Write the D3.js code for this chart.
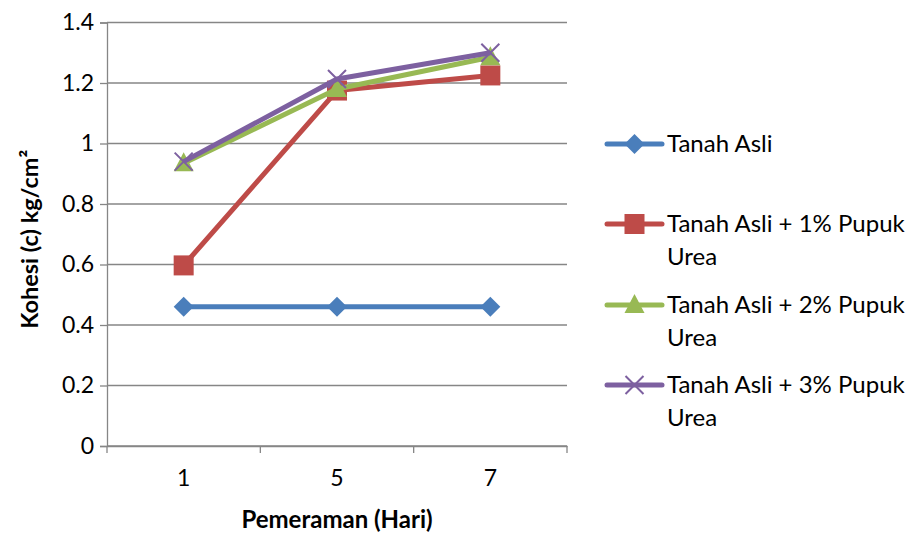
<!DOCTYPE html>
<html>
<head>
<meta charset="utf-8">
<script src="https://cdn.jsdelivr.net/npm/d3@7"></script>
<style>
  body { margin: 0; background: #fff; }
  text { font-family: Lato, "Open Sans", sans-serif; fill: #000; }
</style>
</head>
<body>
<svg id="chart" width="917" height="533"></svg>
<script>
const categories = ['1', '5', '7'];
const seriesNames = [
  ['Tanah Asli'],
  ['Tanah Asli + 1% Pupuk', 'Urea'],
  ['Tanah Asli + 2% Pupuk', 'Urea'],
  ['Tanah Asli + 3% Pupuk', 'Urea']
];
const tanahAsli = [0.46, 0.46, 0.46];
const urea1 = [0.597, 1.175, 1.225];
const urea2 = [0.935, 1.18, 1.285];
const urea3 = [0.94, 1.213, 1.30];
const yTicks = [0, 0.2, 0.4, 0.6, 0.8, 1, 1.2, 1.4];

const colors = ['#4a7ebb', '#be4b48', '#98b954', '#7d60a0'];
const markers = ['diamond', 'square', 'triangle', 'cross'];
const allSeries = [tanahAsli, urea1, urea2, urea3];

const svg = d3.select('#chart');
const margin = { left: 107, right: 350, top: 22.5, bottom: 87 };
const width = 917 - margin.left - margin.right;
const height = 533 - margin.top - margin.bottom;

const x = d3.scaleBand().domain(categories).range([0, width]);
const y = d3.scaleLinear().domain([0, 1.4]).range([height, 0]);

const g = svg.append('g').attr('transform', `translate(${margin.left},${margin.top})`);

// gridlines
g.append('g')
  .selectAll('line')
  .data(yTicks)
  .join('line')
  .attr('x1', 0).attr('x2', width)
  .attr('y1', d => y(d)).attr('y2', d => y(d))
  .attr('stroke', '#868686').attr('stroke-width', 1.3);

// y axis
const yAxis = g.append('g')
  .call(d3.axisLeft(y).tickValues(yTicks).tickSize(7).tickPadding(6).tickFormat(d => String(d)));
yAxis.select('.domain').attr('stroke', '#868686').attr('stroke-width', 1.3);
yAxis.selectAll('.tick line').attr('stroke', '#868686').attr('stroke-width', 1.3);
yAxis.selectAll('.tick text').style('font-size', '23px').style('font-family', 'Lato, sans-serif');

// x axis
const xAxis = g.append('g').attr('transform', `translate(0,${height})`)
  .call(d3.axisBottom(x).tickSize(0).tickPadding(24));
xAxis.select('.domain').attr('stroke', '#868686').attr('stroke-width', 1.3);
xAxis.selectAll('.tick text').style('font-size', '23px').style('font-family', 'Lato, sans-serif');
xAxis.append('g')
  .selectAll('line')
  .data(d3.range(categories.length + 1))
  .join('line')
  .attr('x1', i => i * x.bandwidth()).attr('x2', i => i * x.bandwidth())
  .attr('y1', 0).attr('y2', 7)
  .attr('stroke', '#868686').attr('stroke-width', 1.3);

// axis titles
svg.append('text')
  .attr('x', margin.left + width / 2).attr('y', 528)
  .attr('text-anchor', 'middle')
  .style('font-size', '24px').style('font-weight', 'bold')
  .text('Pemeraman (Hari)');

svg.append('text')
  .attr('transform', `translate(38,${margin.top + height / 2 + 5}) rotate(-90)`)
  .attr('text-anchor', 'middle')
  .style('font-size', '23.5px').style('font-weight', 'bold')
  .text('Kohesi (c) kg/cm²');

const drawMarker = (sel, type, color) => {
  if (type === 'diamond') {
    sel.append('path').attr('d', 'M0,-10L10,0L0,10L-10,0Z').attr('fill', color);
  } else if (type === 'square') {
    sel.append('rect').attr('x', -10).attr('y', -10).attr('width', 20).attr('height', 20).attr('fill', color);
  } else if (type === 'triangle') {
    sel.append('path').attr('d', 'M0,-11L10,8L-10,8Z').attr('fill', color);
  } else {
    sel.append('path').attr('d', 'M-9,-9L9,9M-9,9L9,-9').attr('stroke', color).attr('stroke-width', 2).attr('fill', 'none');
  }
};

const line = d3.line()
  .x((d, i) => x(categories[i]) + x.bandwidth() / 2)
  .y(d => y(d));

allSeries.forEach((vals, si) => {
  const sg = g.append('g');
  sg.append('path')
    .datum(vals)
    .attr('d', line)
    .attr('fill', 'none')
    .attr('stroke', colors[si])
    .attr('stroke-width', 5)
    .attr('stroke-linejoin', 'round');
  sg.selectAll('g.m')
    .data(vals)
    .join('g')
    .attr('class', 'm')
    .attr('transform', (d, i) => `translate(${x(categories[i]) + x.bandwidth() / 2},${y(d)})`)
    .each(function () { drawMarker(d3.select(this), markers[si], colors[si]); });
});

// legend
const legendY = [144, 224, 305, 385];
const legend = svg.append('g');
seriesNames.forEach((lines, si) => {
  const lg = legend.append('g').attr('transform', `translate(607,${legendY[si]})`);
  lg.append('line').attr('x1', 0).attr('x2', 55).attr('y1', 0).attr('y2', 0)
    .attr('stroke', colors[si]).attr('stroke-width', 5).attr('stroke-linecap', 'round');
  const mg = lg.append('g').attr('transform', 'translate(27.5,0)');
  drawMarker(mg, markers[si], colors[si]);
  lines.forEach((t, li) => {
    lg.append('text')
      .attr('x', 60).attr('y', li * 33)
      .attr('dy', '0.35em')
      .style('font-size', '24px')
      .text(t);
  });
});
</script>
</body>
</html>
